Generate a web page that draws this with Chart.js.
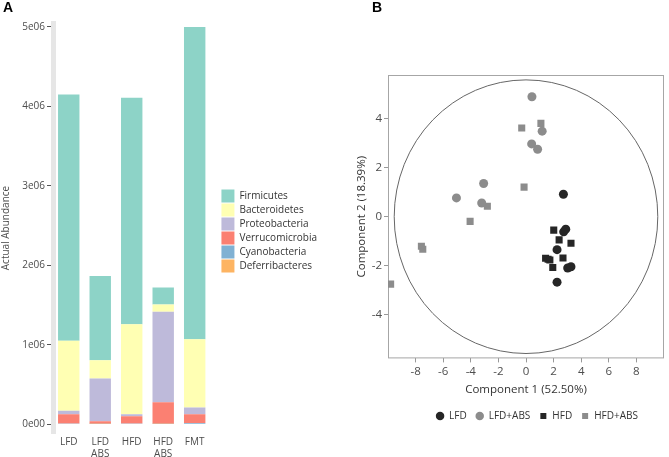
<!DOCTYPE html>
<html>
<head>
<meta charset="utf-8">
<script src="https://cdn.jsdelivr.net/npm/chart.js@4.4.1/dist/chart.umd.min.js"></script>
<style>
    body { margin: 0; background: #fff; }
    #wrap { position: relative; width: 669px; height: 457px; overflow: hidden; }
    canvas { position: absolute; top: 0; }
    .tag { position: absolute; font: bold 14px 'Liberation Sans', Arial, sans-serif; color: #000; }
</style>
</head>
<body>
<div id="wrap">
    <canvas id="bars" width="335" height="457" style="left:0"></canvas>
    <canvas id="pca" width="334" height="457" style="left:335px"></canvas>
    <div class="tag" style="left:3px;top:-1px">A</div>
    <div class="tag" style="left:372px;top:-1px">B</div>
</div>
<script>
// Painel A - abundancia por filo
const groups = ['LFD', ['LFD', 'ABS'], 'HFD', ['HFD', 'ABS'], 'FMT'];
const firmicutes = [3100000, 1060000, 2850000, 215000, 3930000];
const bacteroidetes = [880000, 230000, 1135000, 90000, 860000];
const proteobacteria = [45000, 540000, 25000, 1140000, 85000];
const verrucomicrobia = [115000, 30000, 90000, 270000, 110000];
const cyanobacteria = [5000, 3000, 5000, 3000, 10000];
const deferribacteres = [5000, 4000, 5000, 3000, 5000];
const abundanceTicks = [0, 1000000, 2000000, 3000000, 4000000, 5000000];

// Painel B - PCA
const lfd = [{x: 2.71, y: 0.92}, {x: 2.73, y: -0.62}, {x: 2.88, y: -0.51}, {x: 2.25, y: -1.35},
             {x: 3.02, y: -2.10}, {x: 3.26, y: -2.05}, {x: 2.25, y: -2.68}];
const lfdAbs = [{x: 0.43, y: 4.91}, {x: 1.17, y: 3.50}, {x: 0.41, y: 2.98}, {x: 0.84, y: 2.76},
                {x: -3.07, y: 1.36}, {x: -5.04, y: 0.77}, {x: -3.21, y: 0.56}];
const hfd = [{x: 2.01, y: -0.55}, {x: 2.40, y: -0.95}, {x: 3.26, y: -1.09}, {x: 1.42, y: -1.70},
             {x: 1.60, y: -1.74}, {x: 1.73, y: -1.77}, {x: 2.68, y: -1.69}, {x: 1.94, y: -2.08}];
const hfdAbs = [{x: -0.31, y: 3.63}, {x: 1.08, y: 3.82}, {x: -0.14, y: 1.21}, {x: -2.80, y: 0.43},
                {x: -4.05, y: -0.19}, {x: -7.58, y: -1.21}, {x: -7.48, y: -1.33}, {x: -9.81, y: -2.76}];
const pcaXTicks = [-8, -6, -4, -2, 0, 2, 4, 6, 8];
const pcaYTicks = [-4, -2, 0, 2, 4];
const ringRadius = {x: 9.55, y: 5.6};

Chart.defaults.font.family = "'Open Sans', sans-serif";
Chart.defaults.color = '#4d4d4d';

const fmtAbund = v => v === 0 ? '0e00' : (v / 1000000) + 'e06';

// desloca a legenda depois do layout
const nudgeLegend = {
    id: 'nudgeLegend',
    afterLayout(chart, args, opts) {
        const lg = chart.legend;
        if (!lg) return;
        lg.left += opts.dx || 0; lg.right += opts.dx || 0;
        lg.top += opts.dy || 0; lg.bottom += opts.dy || 0;
    }
};

const phyla = [
    ['Deferribacteres', deferribacteres, '#fdb462'],
    ['Cyanobacteria', cyanobacteria, '#80b1d3'],
    ['Verrucomicrobia', verrucomicrobia, '#fb8072'],
    ['Proteobacteria', proteobacteria, '#bebada'],
    ['Bacteroidetes', bacteroidetes, '#ffffb3'],
    ['Firmicutes', firmicutes, '#8dd3c7']
];

new Chart(document.getElementById('bars'), {
    type: 'bar',
    data: {
        labels: groups,
        datasets: phyla.map(([name, vals, col]) => ({
            label: name,
            data: vals,
            backgroundColor: col,
            borderWidth: 0,
            barPercentage: 0.68,
            categoryPercentage: 1
        }))
    },
    options: {
        responsive: false,
        animation: false,
        layout: { padding: { top: 23, left: 0, right: 18, bottom: 0 } },
        plugins: {
            legend: {
                position: 'right',
                reverse: true,
                maxWidth: 160,
                labels: { boxWidth: 13, boxHeight: 13, padding: 1, font: { size: 10 }, color: '#333' }
            },
            nudgeLegend: { dx: 10, dy: -9 },
            tooltip: { enabled: false }
        },
        scales: {
            x: {
                stacked: true,
                grid: { display: false, drawTicks: false },
                border: { display: false },
                ticks: { font: { size: 10 }, padding: 3, maxRotation: 0 },
                afterFit: s => { s.height = 24; }
            },
            y: {
                stacked: true,
                min: -110000,
                max: 5050000,
                afterBuildTicks: s => { s.ticks = abundanceTicks.map(v => ({ value: v })); },
                afterFit: s => { s.width = 53; },
                ticks: { callback: fmtAbund, font: { size: 10 }, padding: 2 },
                grid: { drawOnChartArea: false, tickLength: 6, color: '#555' },
                border: { color: '#e6e6e6', width: 5 },
                title: { display: true, text: 'Actual Abundance', font: { size: 10 }, color: '#4d4d4d', padding: 0 }
            }
        }
    },
    plugins: [nudgeLegend]
});

// moldura e circulo do painel B
const frameRing = {
    id: 'frameRing',
    beforeDatasetsDraw(chart) {
        const {ctx, chartArea: a, scales: {x, y}} = chart;
        const cx = x.getPixelForValue(0), cy = y.getPixelForValue(0);
        ctx.save();
        ctx.strokeStyle = '#a6a6a6';
        ctx.lineWidth = 1;
        ctx.strokeRect(a.left + 0.5, a.top + 0.5, a.width - 1, a.height - 1);
        ctx.strokeStyle = '#666';
        ctx.beginPath();
        ctx.ellipse(cx, cy, x.getPixelForValue(ringRadius.x) - cx, cy - y.getPixelForValue(ringRadius.y), 0, 0, Math.PI * 2);
        ctx.stroke();
        ctx.restore();
    }
};

const dark = '#262626', grey = '#8c8c8c';
const pcaSeries = [
    ['LFD', lfd, dark, 'circle', 4.5],
    ['LFD+ABS', lfdAbs, grey, 'circle', 4.5],
    ['HFD', hfd, dark, 'rect', 5],
    ['HFD+ABS', hfdAbs, grey, 'rect', 5]
];

new Chart(document.getElementById('pca'), {
    type: 'scatter',
    data: {
        datasets: pcaSeries.map(([name, pts, col, shape, r]) => ({
            label: name,
            data: pts,
            backgroundColor: col,
            borderColor: col,
            pointStyle: shape,
            pointRadius: r,
            borderWidth: 0
        }))
    },
    options: {
        responsive: false,
        animation: false,
        layout: { padding: { top: 75, left: 0, right: 2, bottom: 24 } },
        plugins: {
            legend: {
                position: 'bottom',
                fullSize: false,
                labels: { usePointStyle: true, boxWidth: 8, boxHeight: 6, padding: 9, font: { size: 10 }, color: '#333' }
            },
            nudgeLegend: { dx: 11, dy: -2 },
            tooltip: { enabled: false }
        },
        scales: {
            x: {
                min: -10,
                max: 10,
                afterBuildTicks: s => { s.ticks = pcaXTicks.map(v => ({ value: v })); },
                grid: { drawOnChartArea: false, tickLength: 4, color: '#999' },
                border: { display: false },
                ticks: { font: { size: 11.5 }, padding: 2, maxRotation: 0 },
                title: { display: true, text: 'Component 1 (52.50%)', font: { size: 11.5 }, color: '#333', padding: { top: 3, bottom: 7 } }
            },
            y: {
                min: -5.8,
                max: 5.8,
                afterBuildTicks: s => { s.ticks = pcaYTicks.map(v => ({ value: v })); },
                afterFit: s => { s.width = 53; },
                grid: { drawOnChartArea: false, tickLength: 4, color: '#999' },
                border: { display: false },
                ticks: { font: { size: 11.5 }, padding: 2 },
                title: { display: true, text: 'Component 2 (18.39%)', font: { size: 11.5 }, color: '#333', padding: { top: 20, bottom: 0 } }
            }
        }
    },
    plugins: [frameRing, nudgeLegend]
});
</script>
</body>
</html>
